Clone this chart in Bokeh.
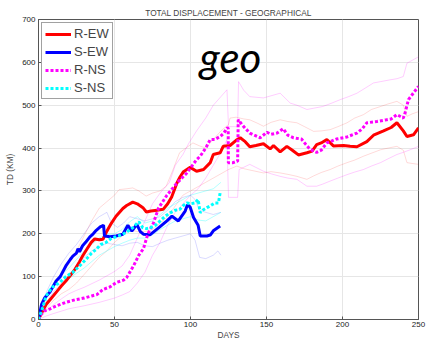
from bokeh.plotting import figure
from bokeh.models import Range1d, Label, FixedTicker
from bokeh.embed import file_html
from bokeh.resources import INLINE

FONT = "Liberation Sans"

# ---- main series ----
days_rew = [0, 2, 5, 8, 12, 15, 18, 21, 24, 27, 29, 32, 34.7, 37, 40, 42.4, 44.5, 48, 51, 55.5, 58, 62, 65, 68.7,
            71, 74, 78, 82, 85, 87.6, 91, 93, 95.4, 99.8, 104, 108.6, 113, 115, 119.5, 121.5, 126, 130, 132.7, 136,
            139, 143, 148, 152.4, 154.6, 159, 163.4, 167, 171, 176.6, 180, 183, 186, 189.7, 194, 200.7, 205, 209.5,
            216, 220.4, 227, 232, 235.8, 240, 242.4, 246.7, 250]
td_rew = [0, 15, 35, 48, 65, 78, 90, 103, 117, 135, 148, 165, 180, 188, 186, 187, 203, 225, 241, 259, 266, 274, 270, 261,
          251, 253, 255, 257, 270, 286, 318, 332, 345, 355, 346, 350, 366, 385, 389, 404, 406, 418, 424, 415,
          403, 406, 410, 398, 406, 391, 404, 395, 384, 389, 393, 408, 412, 420, 405, 406, 404, 403,
          415, 430, 440, 448, 459, 440, 427, 431, 447]

days_sew = [0, 2, 4, 7.7, 11.6, 14.3, 18, 20.9, 22.6, 25, 26, 27, 29, 31, 33.8, 36, 38, 40.6, 42.8, 43.4, 47, 51, 55.5,
            58.8, 61.4, 64.7, 67, 69, 73.5, 79, 84.5, 87.8, 92, 96.5, 98, 99.8, 102, 105, 106.4, 110.8, 113, 115, 119.5]
td_sew = [0, 35, 50, 65, 90, 100, 125, 140, 148, 155, 165, 158, 172, 180, 193, 200, 208, 216, 220, 195, 193, 195, 199,
          220, 206, 222, 205, 199, 198, 214, 230, 241, 230, 253, 268, 262, 238, 220, 195, 195, 197, 207, 218]

days_rns = [0, 1, 4, 7.7, 12, 18, 24, 30, 35, 38.4, 42.4, 47, 51, 56, 58, 62.5, 66, 69, 72, 75.6, 79, 84.5, 88, 91,
            97.6, 104, 106.4, 110, 113, 116, 119.5, 122, 124, 124.8, 124.9, 128, 130.5, 131, 131.4, 135, 139, 142,
            145.8, 150.3, 153, 157, 161, 164, 167.8, 173, 176, 178.7, 181, 183, 186, 189.7, 192, 196, 203, 209.5,
            213, 216, 222.6, 229, 232, 235.8, 240, 241, 243.4, 247, 250]
td_rns = [0, 10, 20, 25, 32, 40, 46, 50, 55, 58, 70, 76, 86, 92, 98, 125, 150, 165, 200, 225, 260, 290, 305, 318,
          342, 373, 381, 400, 420, 420, 427, 435, 447, 447, 366, 366, 369, 369, 466, 450, 435, 430,
          424, 437, 432, 435, 445, 430, 424, 421, 408, 397, 393, 390, 395, 412, 415, 421, 426, 435,
          445, 459, 462, 466, 468, 478, 470, 480, 513, 530, 544]

days_sns = [0, 3, 5, 9, 13.8, 18, 22.6, 27, 31.4, 35, 38, 41, 44.5, 48, 51, 55, 58, 62, 64.7, 66, 68.7, 71, 73.5, 77,
            80, 83, 86.6, 90, 93, 95, 97.6, 100, 103, 105, 106.4, 108, 110.8, 113, 116, 118.4, 119.5]
td_sns = [0, 30, 55, 75, 86, 100, 110, 125, 141, 155, 164, 175, 180, 190, 193, 198, 204, 214, 224, 228, 214, 212, 214,
          220, 230, 240, 249, 255, 257, 265, 272, 270, 272, 280, 249, 255, 261, 265, 272, 272, 296]

# ---- spread (thin) series ----
days_rew_hi = [0, 5, 10, 15, 20, 25, 30, 35, 40, 45, 50, 53, 58, 62, 66, 70.8, 75, 80, 84, 88, 92.8, 97, 101.6, 106,
               110, 115, 120, 125, 126, 130, 135, 139, 144, 148, 153, 159, 164, 170, 175, 181, 186, 191.9, 197, 203,
               208, 213.8, 219, 225, 230, 235.8, 240, 242.4, 246, 250]
td_rew_hi = [0, 50, 80, 105, 130, 160, 195, 230, 260, 275, 290, 303, 305, 307, 300, 288, 295, 300, 311, 345, 389, 400,
             412, 405, 400, 420, 440, 455, 470, 472, 468, 466, 458, 451, 460, 466, 462, 459, 450, 439, 440, 443, 450,
             459, 470, 478, 490, 497, 503, 509, 500, 474, 480, 485]
days_rew_lo = [0, 5, 10, 15, 20, 25, 30, 35, 40, 45, 50, 55, 60, 65, 70, 75, 80, 85, 90, 95, 100, 105, 110, 115, 120,
               125, 130.5, 135, 140, 148, 153, 159, 165, 170, 176.6, 181, 186, 191.9, 197, 203, 208, 213.8, 219, 225,
               230, 235.8, 240, 242.4, 246, 250]
td_rew_lo = [0, 25, 45, 60, 70, 85, 105, 125, 145, 160, 180, 195, 210, 205, 205, 210, 225, 240, 265, 290, 300, 310, 320,
             330, 340, 350, 358, 352, 348, 342, 345, 342, 338, 334, 327, 335, 343, 350, 358, 366, 372, 381, 388, 396,
             400, 404, 395, 366, 364, 362]

days_rns_hi = [0, 5, 10, 15, 20, 25, 30, 40, 50, 55, 60, 65, 70, 75, 80, 86, 90, 95, 99, 104, 110, 115, 120, 124, 125,
               128, 131, 131.6, 135, 139, 148, 153, 159, 165.6, 170, 176.6, 181, 187, 193, 198.5, 204, 209.5, 215,
               220.4, 225, 231, 236, 240, 242.4, 246, 250]
td_rns_hi = [0, 20, 35, 48, 60, 68, 75, 92, 112, 125, 150, 190, 230, 270, 295, 319, 360, 385, 412, 440, 470, 500, 520,
             536, 450, 450, 450, 555, 535, 520, 517, 522, 528, 505, 500, 490, 493, 497, 505, 513, 520, 528, 540, 552,
             555, 559, 562, 567, 598, 605, 613]
days_rns_lo = [0, 5, 10, 20, 30, 40, 50, 55, 60, 65, 70, 75, 80, 85, 90, 95, 100, 105, 110, 115, 120, 124, 125, 131,
               132, 139, 148, 153, 159, 164, 170, 176.6, 183, 187, 191.9, 197, 203, 208, 213.8, 219, 225, 230, 235.8,
               240, 244.5, 250]
td_rns_lo = [0, 8, 14, 25, 32, 40, 50, 57, 65, 85, 110, 150, 180, 220, 250, 270, 290, 305, 330, 360, 390, 420, 285, 285,
             350, 362, 346, 340, 334, 330, 327, 311, 311, 316, 323, 330, 338, 344, 350, 358, 366, 375, 385, 390, 396,
             404]

days_sew_hi = [0, 3, 6, 10, 15, 20, 25, 30, 35, 40, 45, 48, 52, 56, 60, 65, 70, 75, 80, 85, 90, 95, 100, 103, 106, 110,
               115, 120]
td_sew_hi = [0, 45, 70, 100, 130, 155, 175, 200, 225, 240, 250, 225, 215, 225, 240, 235, 230, 235, 240, 255, 275, 285,
             290, 280, 255, 250, 245, 250]
days_sew_lo = [0, 3, 6, 10, 15, 20, 25, 30, 35, 40, 45, 50, 55, 60, 65, 70, 75, 80, 85, 90, 95, 100, 103, 106, 110, 115,
               118, 120]
td_sew_lo = [0, 25, 45, 65, 85, 105, 125, 145, 160, 170, 178, 175, 172, 178, 180, 172, 170, 178, 185, 190, 195, 200,
             185, 145, 142, 150, 160, 150]

days_sns_hi = [0, 3, 6, 10, 15, 20, 25, 30, 35, 40, 45, 50, 55, 60, 65, 70, 75, 80, 85, 90, 95, 100, 105, 110, 115, 120]
td_sns_hi = [0, 40, 60, 85, 105, 120, 140, 160, 175, 190, 198, 200, 210, 228, 240, 225, 230, 245, 260, 270, 280, 290,
             295, 300, 305, 320]
days_sns_lo = [0, 3, 6, 10, 15, 20, 25, 30, 35, 40, 45, 50, 55, 60, 65, 70, 75, 80, 85, 90, 95, 100, 105, 110, 115, 120]
td_sns_lo = [0, 20, 40, 60, 78, 95, 108, 120, 135, 150, 160, 170, 178, 185, 190, 190, 198, 210, 220, 230, 235, 240, 232,
             230, 240, 250]

x_ticks = [0, 50, 100, 150, 200, 250]
y_ticks = [0, 100, 200, 300, 400, 500, 600, 700]

p = figure(width=426, height=342, output_backend="svg", toolbar_location=None,
           x_range=Range1d(0, 250), y_range=Range1d(0, 700),
           min_border_left=38, min_border_right=8, min_border_top=19, min_border_bottom=21,
           title="TOTAL DISPLACEMENT - GEOGRAPHICAL")
p.title.align = "center"
p.title.text_font = FONT
p.title.text_font_size = "8.3px"
p.title.text_font_style = "normal"
p.title.standoff = 4
p.outline_line_color = "#555555"
p.outline_line_width = 1
p.background_fill_color = "white"
p.border_fill_color = "white"

for ax in (p.xaxis[0], p.yaxis[0]):
    ax.major_label_text_font = FONT
    ax.major_label_text_font_size = "8px"
    ax.major_label_text_color = "#222222"
    ax.axis_label_text_font = FONT
    ax.axis_label_text_font_size = "8.3px"
    ax.axis_label_text_font_style = "normal"
    ax.axis_line_color = "#555555"
    ax.major_tick_in = 3
    ax.major_tick_out = 0
    ax.major_tick_line_color = "#555555"
    ax.minor_tick_line_color = None
p.xaxis[0].ticker = FixedTicker(ticks=x_ticks)
p.yaxis[0].ticker = FixedTicker(ticks=y_ticks)
p.xaxis[0].axis_label = "DAYS"
p.yaxis[0].axis_label = "TD (KM)"
p.xaxis[0].major_label_standoff = 2
p.xaxis[0].axis_label_standoff = 0
p.yaxis[0].major_label_standoff = 3
p.yaxis[0].axis_label_standoff = 4

p.xgrid.ticker = FixedTicker(ticks=x_ticks)
p.ygrid.ticker = FixedTicker(ticks=y_ticks)
p.grid.grid_line_color = "#e6e6e6"
p.grid.grid_line_width = 1

# thin spread lines
p.line(days_rew_hi, td_rew_hi, line_color="#ff0000", line_alpha=0.15, line_width=1)
p.line(days_rew_lo, td_rew_lo, line_color="#ff0000", line_alpha=0.15, line_width=1)
p.line(days_rns_hi, td_rns_hi, line_color="#ff00ff", line_alpha=0.2, line_width=1)
p.line(days_rns_lo, td_rns_lo, line_color="#ff00ff", line_alpha=0.2, line_width=1)
p.line(days_sew_hi, td_sew_hi, line_color="#0000ff", line_alpha=0.15, line_width=1)
p.line(days_sew_lo, td_sew_lo, line_color="#0000ff", line_alpha=0.15, line_width=1)
p.line(days_sns_hi, td_sns_hi, line_color="#00ffff", line_alpha=0.3, line_width=1)
p.line(days_sns_lo, td_sns_lo, line_color="#00ffff", line_alpha=0.3, line_width=1)

# main lines
p.line(days_rew, td_rew, line_color="#ff0000", line_width=3, legend_label="R-EW")
p.line(days_sew, td_sew, line_color="#0000ff", line_width=3, legend_label="S-EW")
p.line(days_rns, td_rns, line_color="#ff00ff", line_width=3, line_dash="3 2", legend_label="R-NS")
p.line(days_sns, td_sns, line_color="#00ffff", line_width=3, line_dash="3 2", legend_label="S-NS")

p.legend.location = "top_left"
p.legend.margin = 3
p.legend.padding = 3
p.legend.spacing = 3
p.legend.glyph_width = 26
p.legend.glyph_height = 14
p.legend.label_height = 14
p.legend.label_standoff = 3
p.legend.label_text_font = FONT
p.legend.label_text_font_size = "13px"
p.legend.border_line_color = "#444444"
p.legend.border_line_width = 1
p.legend.background_fill_alpha = 1

geo = Label(x=106, y=612, text="geo", text_font="Lato", text_font_size="42px",
            text_font_style="italic", text_color="black", text_align="left", text_baseline="alphabetic")
p.add_layout(geo)

open("out.html", "w").write(file_html(p, INLINE))
